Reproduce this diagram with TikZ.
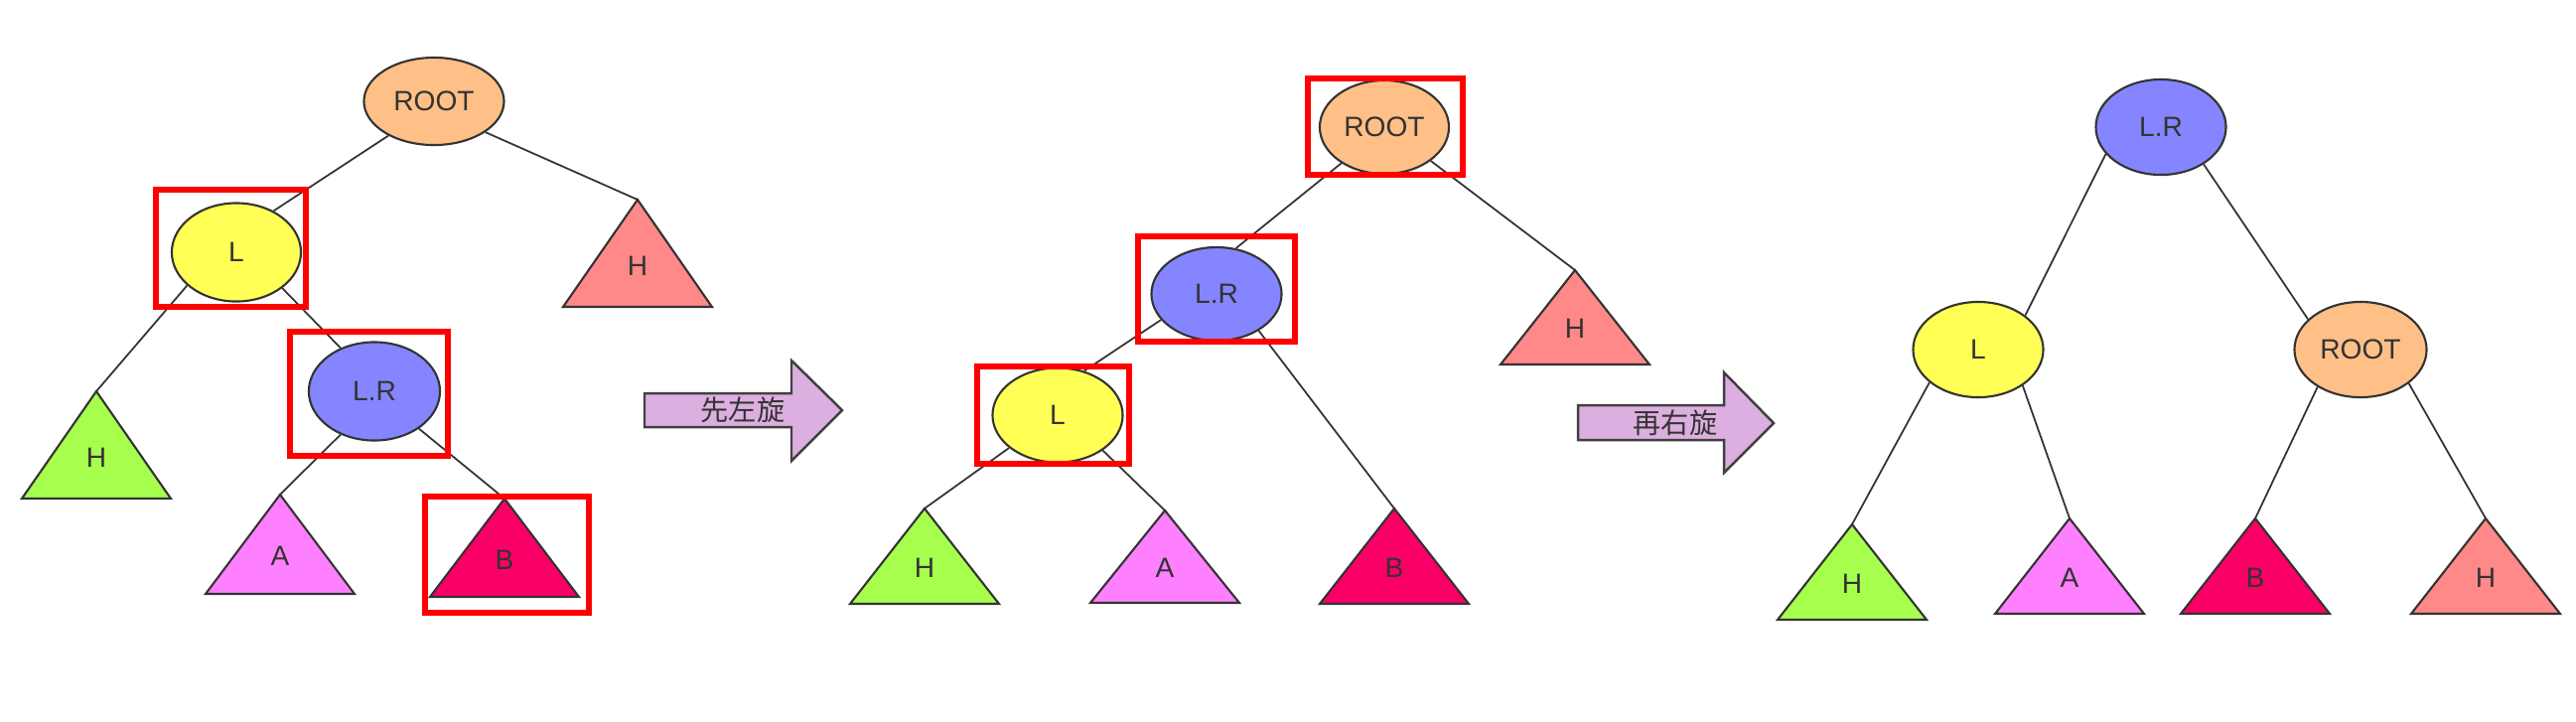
\documentclass[tikz,border=0pt]{standalone}
\usepackage{fontspec}
\setmainfont{Liberation Sans}
\newfontfamily\cjk{Noto Sans CJK SC}
\usetikzlibrary{shapes.geometric}

\definecolor{rootc}{HTML}{FFC088}
\definecolor{lc}{HTML}{FFFF55}
\definecolor{lrc}{HTML}{8585FF}
\definecolor{hgc}{HTML}{A6FF4D}
\definecolor{hrc}{HTML}{FF8888}
\definecolor{ac}{HTML}{FF80FF}
\definecolor{bc}{HTML}{FA0066}
\definecolor{arrc}{HTML}{DCAFE0}
\definecolor{inkc}{HTML}{333333}

\tikzset{
	subtree/.pic={
		\coordinate (-apex) at (0,0);
		\coordinate (-bl) at (-75,#1);
		\coordinate (-br) at (75,#1);
		\draw[pic actions, draw=inkc, line width=0.6pt] (-apex) -- (-bl) -- (-br) -- cycle;
		\node (-lab) at (0,{0.62*#1}) {\tikzpictext};
	}
}

\begin{document}
\begin{tikzpicture}[x=0.01cm,y=-0.01cm,
		every node/.style={font=\fontsize{8}{9.6}\selectfont, text=inkc},
		tn/.style={ellipse, draw=inkc, line width=0.6pt, inner sep=0pt, minimum width=1.31cm, minimum height=0.95cm},
		link/.style={draw=inkc, line width=0.5pt},
		hlbox/.style={draw=red, line width=1.7pt},
		blockarrow/.style={draw=black!75, line width=0.7pt, fill=arrc}]
	\useasboundingbox (0,0) rectangle (2594,726);

	\node[tn, fill=rootc, minimum width=1.41cm, minimum height=0.88cm] (t1root) at (437,102) {ROOT};
	\node[tn, fill=lc, minimum width=1.30cm, minimum height=0.99cm] (t1l) at (238,254) {L};
	\node[tn, fill=lrc, minimum width=1.32cm, minimum height=0.99cm] (t1lr) at (377,394) {L.R};
	\pic[fill=hrc, pic text=H] (t1hr) at (642,201) {subtree=108};
	\pic[fill=hgc, pic text=H] (t1hg) at (97,394) {subtree=108};
	\pic[fill=ac, pic text=A] (t1a) at (282,498) {subtree=100};
	\pic[fill=bc, pic text=B] (t1b) at (508,502) {subtree=99};
	\draw[link] (t1root.217) -- (t1l.48);
	\draw[link] (t1root.329) -- (t1hr-apex);
	\draw[link] (t1l.214) -- (t1hg-apex);
	\draw[link] (t1l.322) -- (t1lr.128);
	\draw[link] (t1lr.232) -- (t1a-apex);
	\draw[link] (t1lr.320) -- (t1b-apex);
	\draw[hlbox] (157,191) rectangle (308,309);
	\draw[hlbox] (292,334) rectangle (451,459);
	\draw[hlbox] (428,500) rectangle (593,617);

	\draw[blockarrow] (649,396) -- (797,396) -- (797,363) -- (848,413) -- (797,464) -- (797,430) -- (649,430) -- cycle;
	\node (rot1) at (748,413) {\cjk 先左旋};

	\node[tn, fill=rootc, minimum width=1.30cm, minimum height=0.94cm] (t2root) at (1394,128) {ROOT};
	\node[tn, fill=lrc, minimum height=0.94cm] (t2lr) at (1225,296) {L.R};
	\node[tn, fill=lc] (t2l) at (1065,418) {L};
	\pic[fill=hrc, pic text=H] (t2hr) at (1586,272) {subtree=95};
	\pic[fill=hgc, pic text=H] (t2hg) at (931,512) {subtree=96};
	\pic[fill=ac, pic text=A] (t2a) at (1173,514) {subtree=93};
	\pic[fill=bc, pic text=B] (t2b) at (1404,512) {subtree=96};
	\draw[link] (t2root.220) -- (t2lr.67);
	\draw[link] (t2root.324) -- (t2hr-apex);
	\draw[link] (t2lr.205) -- (t2l.59);
	\draw[link] (t2lr.319) -- (t2b-apex);
	\draw[link] (t2l.214) -- (t2hg-apex);
	\draw[link] (t2l.322) -- (t2a-apex);
	\draw[hlbox] (1317,79) rectangle (1473,176);
	\draw[hlbox] (1146,238) rectangle (1304,344);
	\draw[hlbox] (984,369) rectangle (1137,467);

	\draw[blockarrow] (1589,408) -- (1736,408) -- (1736,375) -- (1786,426) -- (1736,476) -- (1736,443) -- (1589,443) -- cycle;
	\node (rot2) at (1687,426) {\cjk 再右旋};

	\node[tn, fill=lrc, minimum height=0.96cm] (t3lr) at (2176,128) {L.R};
	\node[tn, fill=lc, minimum height=0.96cm] (t3l) at (1992,352) {L};
	\node[tn, fill=rootc, minimum width=1.33cm, minimum height=0.96cm] (t3root) at (2377,352) {ROOT};
	\pic[fill=hgc, pic text=H] (t3hg) at (1865,528) {subtree=96};
	\pic[fill=ac, pic text=A] (t3a) at (2084,522) {subtree=96};
	\pic[fill=bc, pic text=B] (t3b) at (2271,522) {subtree=96};
	\pic[fill=hrc, pic text=H] (t3hr) at (2503,522) {subtree=96};
	\draw[link] (t3lr.206) -- (t3l.36);
	\draw[link] (t3lr.319) -- (t3root.150);
	\draw[link] (t3l.214) -- (t3hg-apex);
	\draw[link] (t3l.321) -- (t3a-apex);
	\draw[link] (t3root.221) -- (t3b-apex);
	\draw[link] (t3root.325) -- (t3hr-apex);
\end{tikzpicture}
\end{document}
